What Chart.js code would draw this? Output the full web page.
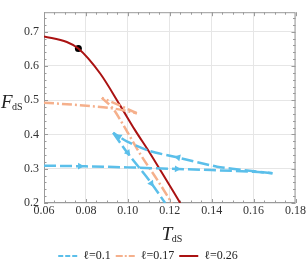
<!DOCTYPE html>
<html lang="en">
<head>
    <meta charset="UTF-8">
    <title>F_dS vs T_dS</title>
    <script src="https://cdn.jsdelivr.net/npm/chart.js"></script>
    <style>
        body { margin: 0; background: #fff; }
    </style>
</head>
<body>
    <canvas id="freeEnergyChart" width="307" height="272"></canvas>

    <script>
        // l = 0.1 (three branches)
        const blueLowT = [0.06, 0.08, 0.10, 0.12, 0.14, 0.16, 0.169];
        const blueLowF = [0.309, 0.307, 0.304, 0.300, 0.296, 0.291, 0.287];
        const blueMidT = [0.169, 0.157, 0.1426, 0.1234, 0.1102, 0.0995, 0.093];
        const blueMidF = [0.287, 0.295, 0.306, 0.3335, 0.352, 0.38, 0.405];
        const blueHighT = [0.093, 0.0995, 0.1107, 0.1178];
        const blueHighF = [0.405, 0.349, 0.262, 0.2];

        // arrows on the l = 0.1 curve (position + branch it sits on)
        const arrowT = [0.0772, 0.1234, 0.124, 0.0958, 0.1, 0.1112];
        const arrowF = [0.3075, 0.2995, 0.333, 0.394, 0.347, 0.257];
        const arrowBranch = [0, 0, 1, 1, 2, 2];

        // l = 0.17 (swallowtail)
        const orangeLowT = [0.06, 0.082, 0.093, 0.1043];
        const orangeLowF = [0.493, 0.483, 0.476, 0.462];
        const orangeMidT = [0.1043, 0.095, 0.0876];
        const orangeMidF = [0.462, 0.488, 0.507];
        const orangeHighT = [0.0876, 0.0931, 0.0976, 0.1059, 0.1139, 0.121];
        const orangeHighF = [0.507, 0.474, 0.43, 0.343, 0.269, 0.2];

        // l = 0.26
        const redT = [0.06, 0.0709, 0.0764, 0.0868, 0.0963, 0.1035, 0.1102, 0.1162, 0.125];
        const redF = [0.686, 0.670, 0.651, 0.578, 0.485, 0.412, 0.349, 0.289, 0.2];

        // marked point on l = 0.26
        const dotT = [0.0764];
        const dotF = [0.651];

        const legendText = ['\u2113=0.1', '\u2113=0.17', '\u2113=0.26'];

        const blue = '#5bbfea';
        const orange = '#f5b08c';
        const red = '#aa1212';

        const xTicks = [0.06, 0.08, 0.10, 0.12, 0.14, 0.16, 0.18];
        const yTicks = [0.2, 0.3, 0.4, 0.5, 0.6, 0.7];

        function pts(ts, fs) {
            return ts.map((t, i) => ({ x: t, y: fs[i] }));
        }

        const blueBranches = [pts(blueLowT, blueLowF), pts(blueMidT, blueMidF), pts(blueHighT, blueHighF)];

        // direction of the branch at an arrow, in pixels, turned into a rotation
        function arrowRotation(ctx) {
            const chart = ctx.chart;
            const i = ctx.dataIndex;
            const branch = blueBranches[arrowBranch[i]];
            const t = arrowT[i];
            let k = 0;
            for (let j = 0; j < branch.length - 1; j++) {
                const lo = Math.min(branch[j].x, branch[j + 1].x);
                const hi = Math.max(branch[j].x, branch[j + 1].x);
                if (t >= lo && t <= hi) { k = j; break; }
            }
            const xs = chart.scales.x, ys = chart.scales.y;
            if (!xs || !ys) return 0;
            const dx = xs.getPixelForValue(branch[k + 1].x) - xs.getPixelForValue(branch[k].x);
            const dy = ys.getPixelForValue(branch[k + 1].y) - ys.getPixelForValue(branch[k].y);
            return Math.atan2(dx, -dy) * 180 / Math.PI;
        }

        function branch(data, color, dash, width, monotone) {
            return {
                label: '',
                data: data,
                showLine: true,
                borderColor: color,
                borderWidth: width,
                borderDash: dash,
                pointRadius: 0,
                tension: 0.2,
                cubicInterpolationMode: monotone ? 'monotone' : 'default',
                fill: false
            };
        }

        // frame with inward ticks, plus axis titles with subscripts
        const framePlugin = {
            id: 'frame',
            beforeDatasetsDraw(chart) {
                const { ctx, chartArea: a, scales: { x, y } } = chart;
                ctx.save();
                ctx.strokeStyle = '#9a9a9a';
                ctx.lineWidth = 1;
                ctx.strokeRect(a.left + 0.5, a.top + 0.5, a.right - a.left - 1, a.bottom - a.top - 1);
                ctx.beginPath();
                for (let v = 0.06; v <= 0.1801; v += 0.005) {
                    const px = Math.round(x.getPixelForValue(v)) + 0.5;
                    const major = Math.abs(v / 0.02 - Math.round(v / 0.02)) < 1e-6;
                    const len = major ? 4 : 2.5;
                    ctx.moveTo(px, a.bottom); ctx.lineTo(px, a.bottom - len);
                    ctx.moveTo(px, a.top); ctx.lineTo(px, a.top + len);
                }
                for (let v = 0.2; v <= y.max + 1e-6; v += 0.02) {
                    const py = Math.round(y.getPixelForValue(v)) + 0.5;
                    const major = Math.abs(v / 0.1 - Math.round(v / 0.1)) < 1e-6;
                    const len = major ? 4 : 2.5;
                    ctx.moveTo(a.left, py); ctx.lineTo(a.left + len, py);
                    ctx.moveTo(a.right, py); ctx.lineTo(a.right - len, py);
                }
                ctx.stroke();
                ctx.restore();
            },
            afterDraw(chart) {
                const { ctx, chartArea: a } = chart;
                ctx.save();
                ctx.fillStyle = '#222';
                ctx.textBaseline = 'alphabetic';
                ctx.textAlign = 'left';
                // y title
                ctx.font = 'italic 19px "Liberation Serif"';
                ctx.fillText('F', 1, 108);
                ctx.font = '10px "Liberation Serif"';
                ctx.fillText('dS', 12, 110);
                // x title
                const cx = (a.left + a.right) / 2;
                ctx.font = 'italic 19px "Liberation Serif"';
                ctx.fillText('T', cx - 8, 240);
                ctx.font = '10px "Liberation Serif"';
                ctx.fillText('dS', cx + 2, 242);
                ctx.restore();
            }
        };

        const ctx = document.getElementById('freeEnergyChart').getContext('2d');
        const chart = new Chart(ctx, {
            type: 'scatter',
            data: {
                datasets: [
                    branch(blueBranches[0], blue, [12, 4], 2.5, true),
                    branch(blueBranches[1], blue, [12, 4], 2.5, false),
                    branch(blueBranches[2], blue, [12, 4], 2.5, true),
                    branch(pts(orangeLowT, orangeLowF), orange, [10, 3, 2, 3], 2.5, true),
                    branch(pts(orangeMidT, orangeMidF), orange, [10, 3, 2, 3], 2.5, false),
                    branch(pts(orangeHighT, orangeHighF), orange, [10, 3, 2, 3], 2.5, true),
                    branch(pts(redT, redF), red, [], 2, true),
                    {
                        label: '',
                        data: pts(arrowT, arrowF),
                        pointStyle: 'triangle',
                        pointRadius: 4,
                        pointBackgroundColor: blue,
                        pointBorderWidth: 0,
                        pointRotation: arrowRotation
                    },
                    {
                        label: '',
                        data: pts(dotT, dotF),
                        pointRadius: 3.5,
                        pointBackgroundColor: '#000',
                        pointBorderWidth: 0
                    }
                ]
            },
            options: {
                responsive: false,
                animation: false,
                events: [],
                layout: { padding: { top: 2, right: 11, left: 0, bottom: 0 } },
                plugins: {
                    tooltip: { enabled: false },
                    legend: {
                        position: 'bottom',
                        labels: {
                            usePointStyle: true,
                            pointStyleWidth: 19,
                            padding: 5,
                            color: '#222',
                            font: { family: 'Liberation Serif', size: 12 },
                            generateLabels: () => [
                                { text: legendText[0], strokeStyle: blue, fillStyle: blue, lineWidth: 2, lineDash: [5, 2], pointStyle: 'line', fontColor: '#222' },
                                { text: legendText[1], strokeStyle: orange, fillStyle: orange, lineWidth: 2, lineDash: [7, 2, 2, 2], pointStyle: 'line', fontColor: '#222' },
                                { text: legendText[2], strokeStyle: red, fillStyle: red, lineWidth: 2, lineDash: [], pointStyle: 'line', fontColor: '#222' }
                            ]
                        }
                    }
                },
                scales: {
                    x: {
                        type: 'linear',
                        min: 0.06,
                        max: 0.18,
                        afterFit: (s) => { s.height = 42; },
                        afterBuildTicks: (s) => { s.ticks = xTicks.map(v => ({ value: v })); },
                        ticks: {
                            padding: 1,
                            color: '#333',
                            font: { family: 'Liberation Serif', size: 12 },
                            callback: (v) => v.toFixed(2)
                        },
                        grid: { color: '#e6e6e6', drawTicks: false },
                        border: { display: false }
                    },
                    y: {
                        type: 'linear',
                        min: 0.2,
                        max: 0.757,
                        afterFit: (s) => { s.width = 44; },
                        afterBuildTicks: (s) => { s.ticks = yTicks.map(v => ({ value: v })); },
                        ticks: {
                            padding: 5,
                            color: '#333',
                            font: { family: 'Liberation Serif', size: 12 },
                            callback: (v) => v.toFixed(1)
                        },
                        grid: { color: '#e6e6e6', drawTicks: false },
                        border: { display: false }
                    }
                }
            },
            plugins: [framePlugin]
        });
    </script>
</body>
</html>
